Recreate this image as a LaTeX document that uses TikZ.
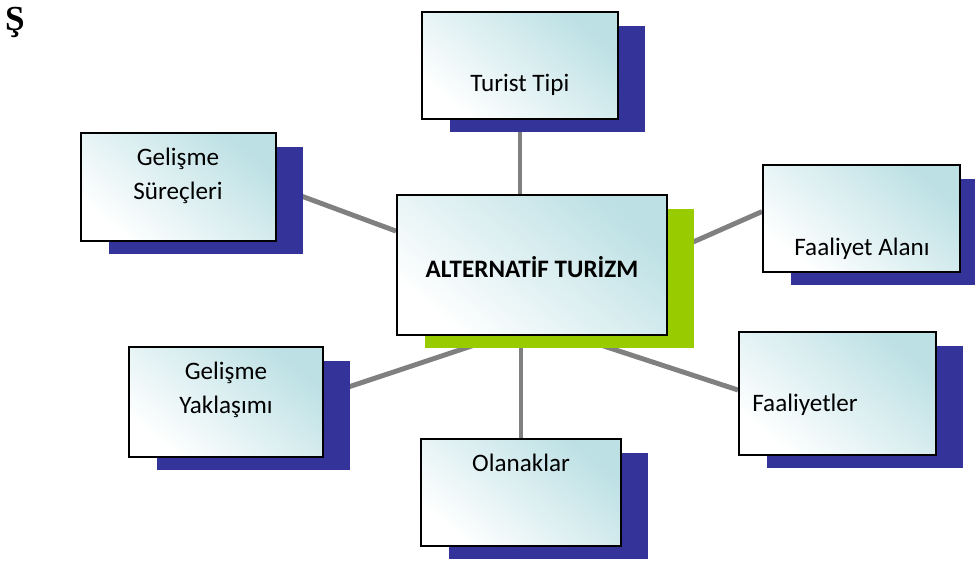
\documentclass[tikz,border=0pt]{standalone}
\usepackage{fontspec}
\setmainfont{Carlito}
\newfontfamily\timesbold{Liberation Serif}
\usetikzlibrary{positioning,shadows,backgrounds}
\definecolor{navy}{RGB}{51,51,153}
\definecolor{lime}{RGB}{153,204,0}
\definecolor{glow}{RGB}{188,224,228}
\definecolor{spoke}{RGB}{128,128,128}

\begin{document}
\begin{tikzpicture}[
  x=0.02cm, y=-0.02cm,
  every node/.style={font=\fontsize{14.3}{19}\selectfont},
  box/.style={draw=black, line width=1.1pt, top color=glow, bottom color=white, shading angle=-40, inner sep=0pt},
  navyshade/.style={drop shadow={shadow xshift=0.55cm, shadow yshift=-0.27cm, fill=navy, opacity=1}},
  limeshade/.style={drop shadow={shadow xshift=0.55cm, shadow yshift=-0.27cm, fill=lime, opacity=1}},
  txt/.style={align=center, inner sep=0pt},
  link/.style={draw=spoke, line width=2.8pt}]
\useasboundingbox (0,0) rectangle (975,561);
\node[font=\timesbold\bfseries\fontsize{20}{20}\selectfont, inner sep=0pt] (mark) at (15,22) {Ş};
% boxes
\node[box, limeshade, minimum width=5.4cm, minimum height=2.8cm] (ac) at (532,265) {};
\node[box, navyshade, minimum width=3.92cm, minimum height=2.14cm] (tt) at (520,65.5) {};
\node[box, navyshade, minimum width=3.9cm, minimum height=2.16cm] (gs) at (178.5,187) {};
\node[box, navyshade, minimum width=3.94cm, minimum height=2.14cm] (fa) at (861.5,218.5) {};
\node[box, navyshade, minimum width=3.88cm, minimum height=2.2cm] (gy) at (226,402) {};
\node[box, navyshade, minimum width=3.94cm, minimum height=2.46cm] (fy) at (837.5,393.5) {};
\node[box, navyshade, minimum width=4.0cm, minimum height=2.14cm] (ol) at (521,492.5) {};
% texts
\node[txt, font=\bfseries\fontsize{14.3}{19}\selectfont] (acT) at (532,267) {ALTERNATİF TURİZM};
\node[txt] (ttT) at (520,85) {Turist Tipi};
\node[txt] (gsT) at (178,176) {Gelişme\\Süreçleri};
\node[txt] (faT) at (862,249) {Faaliyet Alanı};
\node[txt] (gyT) at (226,390) {Gelişme\\Yaklaşımı};
\node[txt, anchor=west] (fyT) at (752,405) {Faaliyetler};
\node[txt] (olT) at (521,463) {Olanaklar};
% spokes
\begin{scope}[on background layer]
\draw[link] (tt.south) -- (tt.south |- ac.north);
\draw[link] (ol.north) -- (ol.north |- ac.south);
\draw[link] (gs.east) -- (ac.166);
\draw[link] (ac.5) -- (fa.176);
\draw[link] (gy.4) -- (ac.247);
\draw[link] (ac.300) -- (fy.178);
\end{scope}
\end{tikzpicture}
\end{document}
